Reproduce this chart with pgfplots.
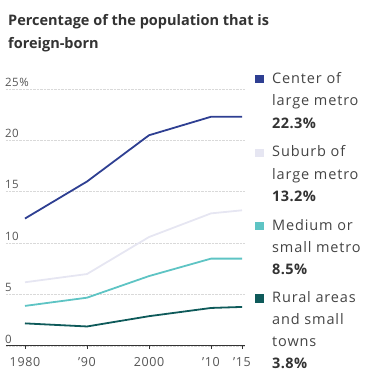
\documentclass[border=0pt]{standalone}
\usepackage{fontspec}
\setmainfont{Open Sans}
\usepackage{pgfplots}
\pgfplotsset{compat=1.18}
\definecolor{cCenter}{HTML}{2E3F92}
\definecolor{cSuburb}{HTML}{E6E6F2}
\definecolor{cMedium}{HTML}{5EC4C4}
\definecolor{cRural}{HTML}{0E5A5A}
\definecolor{txt}{HTML}{333333}
\definecolor{ltxt}{HTML}{444444}
\definecolor{ticktxt}{HTML}{555555}
\begin{document}
\begin{tikzpicture}[x=1pt,y=1pt]
\path[use as bounding box] (0,0) rectangle (370,372);
\tikzset{ttl/.style={anchor=base west, inner sep=0pt, text=txt, font=\fontsize{14.5}{17}\selectfont\bfseries}}
\node[ttl] at (8,346) {Percentage of the population that is};
\node[ttl] at (8,323.5) {foreign-born};
\begin{axis}[
  at={(6pt,26pt)}, anchor=south west,
  scale only axis, width=239pt, height=257pt,
  xmin=1976.94, xmax=2015.48, ymin=0, ymax=25,
  axis x line*=bottom, axis y line*=left,
  x axis line style={draw=txt, line width=1pt},
  y axis line style={draw=none},
  xtick={1980,1990,2000,2010,2015},
  xticklabels={1980,’90,2000,’10,’15},
  ytick={0,5,10,15,20,25},
  yticklabels={0,5,10,15,20,25\%},
  tick align=outside,
  xtick style={draw=txt, line width=0.8pt},
  major tick length=3pt,
  ytick style={draw=none},
  xticklabel style={font=\fontsize{12.5}{12}\selectfont\addfontfeatures{LetterSpace=5}, text=ticktxt, inner sep=0pt, anchor=north, yshift=-8pt},
  yticklabel style={font=\fontsize{11.5}{12}\selectfont\addfontfeatures{LetterSpace=4}, text=ticktxt, inner sep=0pt, anchor=south west, xshift=2pt, yshift=2.5pt},
  ymajorgrids,
  grid style={gray!30, densely dotted, line width=0.6pt},
  clip=false,
]
\addplot[cSuburb, line width=1.8pt] coordinates {(1980,6.2) (1990,7.0) (2000,10.6) (2010,12.9) (2015,13.2)};
\addplot[cRural, line width=1.8pt] coordinates {(1980,2.2) (1990,1.9) (2000,2.9) (2010,3.7) (2015,3.8)};
\addplot[cMedium, line width=1.8pt] coordinates {(1980,3.9) (1990,4.7) (2000,6.8) (2010,8.5) (2015,8.5)};
\addplot[cCenter, line width=1.8pt] coordinates {(1980,12.4) (1990,16.0) (2000,20.5) (2010,22.3) (2015,22.3)};
\end{axis}
\tikzset{lg/.style={anchor=base west, inner sep=0pt, text=ltxt, font=\fontsize{14.5}{16}\selectfont\addfontfeatures{LetterSpace=6}},
         lgb/.style={anchor=base west, inner sep=0pt, text=txt, font=\fontsize{14.5}{16}\selectfont\bfseries\addfontfeatures{LetterSpace=3}}}
\fill[cCenter] (255,288.75) rectangle (263.5,297.25);
\node[lg] at (272,288.5) {Center of};
\node[lg] at (272,266) {large metro};
\node[lgb] at (272,243.5) {22.3\%};
\fill[cSuburb] (255,214.75) rectangle (263.5,223.25);
\node[lg] at (272,215) {Suburb of};
\node[lg] at (272,192.5) {large metro};
\node[lgb] at (272,170.5) {13.2\%};
\fill[cMedium] (255,141.75) rectangle (263.5,150.25);
\node[lg] at (272,141.5) {Medium or};
\node[lg] at (272,119.5) {small metro};
\node[lgb] at (272,97.5) {8.5\%};
\fill[cRural] (255,69.25) rectangle (263.5,77.75);
\node[lg] at (272,69) {Rural areas};
\node[lg] at (272,47) {and small};
\node[lg] at (272,25.5) {towns};
\node[lgb] at (272,4) {3.8\%};
\end{tikzpicture}
\end{document}
